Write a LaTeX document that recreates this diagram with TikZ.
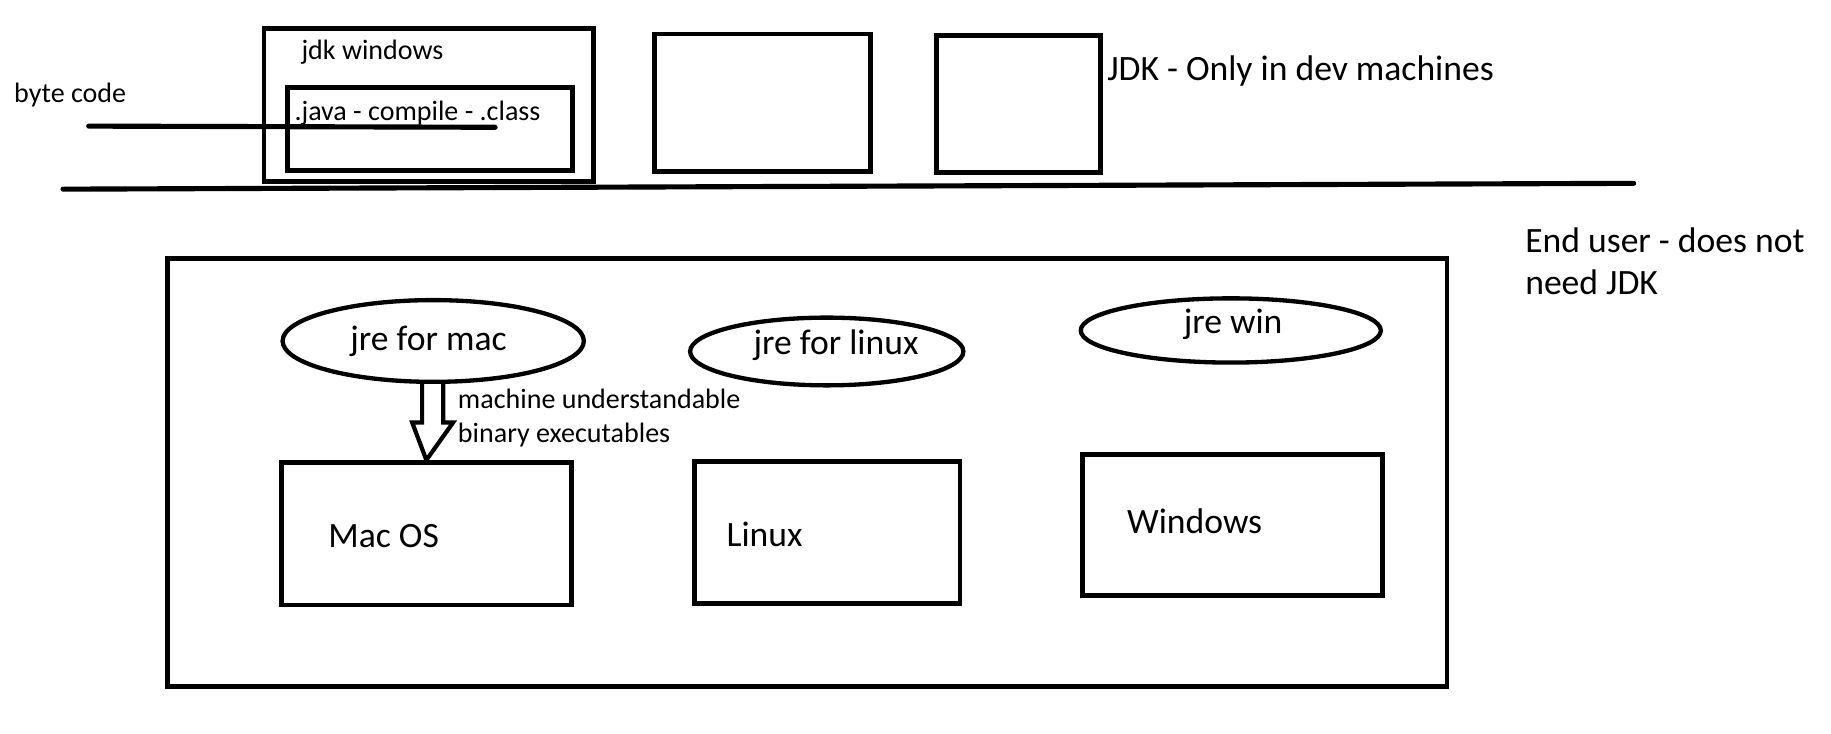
\documentclass[tikz,border=0pt]{standalone}
\usepackage{fontspec}
\setmainfont{Carlito}
\usetikzlibrary{shapes.geometric,calc}
\tikzset{
  box/.style={draw=black, line width=4.2pt, rectangle, inner sep=0pt, anchor=north west},
  jre/.style={draw=black, line width=3.7pt, ellipse, inner sep=0pt},
  big/.style={font=\fontsize{30.5}{36}\selectfont, inner sep=0pt, text=black},
  small/.style={font=\fontsize{24}{30}\selectfont, inner sep=0pt, text=black},
  rule/.style={draw=black, line width=4.4pt, line cap=round},
  hollow/.style={draw=black, line width=3.6pt, fill=white, line join=miter}
}
\begin{document}
\begin{tikzpicture}[x=1pt,y=-1pt]
\useasboundingbox[fill=white] (0,0) rectangle (1568,628);

% ---- developer side ----
\node[box, minimum width=282pt, minimum height=131pt] (jdkwin) at (224,22) {};
\node[small, anchor=base west] (jdkwintxt) at (258,51) {jdk windows};
\node[box, minimum width=244pt, minimum height=71pt] (inner) at (244,73) {};
\node[small, anchor=base west] (javatxt) at (252,103) {.java - compile - .class};
\node[box, minimum width=185pt, minimum height=118pt] (boxb) at (558,27) {};
\node[box, minimum width=140pt, minimum height=118pt] (boxc) at (800,28) {};
\node[big, anchor=base west] (jdknote) at (948,69) {JDK - Only in dev machines};

\node[small, anchor=base west] (bytecode) at (12,88) {byte code};
\coordinate (bcA) at (76,108);
\coordinate (bcB) at (424,109);
\draw[rule] (bcA) -- (bcB);

\coordinate (sepA) at (54,162);
\coordinate (sepB) at (1399,157);
\draw[rule] (sepA) -- (sepB);

% ---- end user side ----
\node[box, minimum width=1096pt, minimum height=367pt] (enduser) at (141,219) {};
\node[big, anchor=base west] (endnote) at (1306,216) {End user - does not};
\node[big, anchor=base west] (endnote2) at (1306,252) {need JDK};

\node[jre, minimum width=258pt, minimum height=70pt] (jmac) at (371,292) {};
\node[big, anchor=base] (jmactxt) at (367,300) {jre for mac};
\node[jre, minimum width=234pt, minimum height=58pt] (jlin) at (708,301) {};
\node[big, anchor=base] (jlintxt) at (716,304) {jre for linux};
\node[jre, minimum width=257pt, minimum height=55pt] (jwin) at (1054,283) {};
\node[big, anchor=base] (jwintxt) at (1056,286) {jre win};

\node[box, minimum width=248pt, minimum height=122pt] (mac) at (239,394) {};
\node[big, anchor=base west] (mactxt) at (281,469) {Mac OS};
\node[box, minimum width=227pt, minimum height=122pt] (lin) at (593,393) {};
\node[big, anchor=base west] (lintxt) at (622,468) {Linux};
\node[box, minimum width=257pt, minimum height=121pt] (win) at (925,387) {};
\node[big, anchor=base west] (wintxt) at (965,457) {Windows};

% hollow arrow from jre for mac to Mac OS
\draw[hollow]
  ($(jmac.south)+(-9.5,0)$) -- ($(jmac.south)+(-9.5,33)$) -- ($(jmac.south)+(-18,33)$)
  -- (mac.north) -- ($(jmac.south)+(17,33)$) -- ($(jmac.south)+(8.5,33)$)
  -- ($(jmac.south)+(8.5,0)$);
\node[small, anchor=base west] (arrtxt1) at (392,350) {machine understandable};
\node[small, anchor=base west] (arrtxt2) at (392,379) {binary executables};
\end{tikzpicture}
\end{document}
